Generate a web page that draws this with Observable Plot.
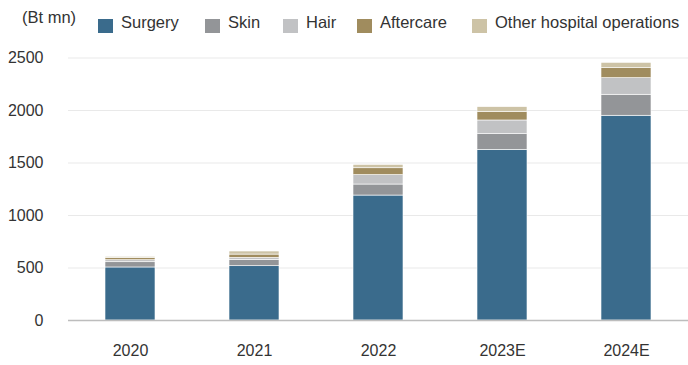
<!DOCTYPE html>
<html><head><meta charset="utf-8">
<script src="https://cdn.jsdelivr.net/npm/d3@7"></script>
<script src="https://cdn.jsdelivr.net/npm/@observablehq/plot@0.6"></script>
<style>
body{margin:0;background:#fff;font-family:"Liberation Sans",Arial,sans-serif;}
#wrap{position:relative;width:688px;height:365px;}
.txt{position:absolute;font-size:16.5px;color:#333;white-space:nowrap;line-height:normal;}
.sw{position:absolute;width:15px;height:14px;}
svg{position:absolute;left:0;top:0;}
</style></head><body><div id="wrap"></div>
<script>
const years = ["2020", "2021", "2022", "2023E", "2024E"];
const series = ["Surgery", "Skin", "Hair", "Aftercare", "Other hospital operations"];
const colors = ["#3a6b8c", "#939598", "#c1c2c4", "#a08c5e", "#cdc3a6"];
const surgery = [505, 517, 1190, 1625, 1950];
const skin = [50, 60, 105, 150, 200];
const hair = [19, 19, 90, 130, 158];
const aftercare = [22, 32, 65, 80, 95];
const other = [10, 29, 32, 47, 51];
const yTicks = [0, 500, 1000, 1500, 2000, 2500];
const unitLabel = "(Bt mn)";

const values = [surgery, skin, hair, aftercare, other];
const rows = series.flatMap((s, i) => years.map((y, j) => ({year: y, series: s, value: values[i][j]})));

const chart = Plot.plot({
  width: 688, height: 365,
  marginTop: 57.5, marginBottom: 45, marginLeft: 68, marginRight: 0,
  style: {fontFamily: "Liberation Sans, Arial, sans-serif", fontSize: "16px", color: "#333", background: "transparent"},
  x: {domain: years, paddingInner: 0.6, paddingOuter: 0.3, label: null, tickSize: 0, tickPadding: 24},
  y: {domain: [0, 2500], ticks: yTicks, label: null, tickSize: 0, tickPadding: 25, tickFormat: d => String(d)},
  color: {domain: series, range: colors},
  marks: [
    Plot.gridY(yTicks.slice(1), {stroke: "#e9e9e9", strokeOpacity: 1, strokeWidth: 1.2}),
    Plot.barY(rows, {x: "year", y: "value", fill: "series", stroke: "#fff", strokeWidth: 0.6}),
    Plot.ruleY([0], {stroke: "#bdbdbd", strokeWidth: 1.5})
  ]
});

const wrap = document.getElementById("wrap");
wrap.appendChild(chart);

function addText(t, left, top) {
  const d = document.createElement("div");
  d.className = "txt"; d.textContent = t;
  d.style.left = left + "px"; d.style.top = top + "px";
  wrap.appendChild(d);
}
addText(unitLabel, 22, 8);
const swLeft = [98, 205, 283, 357, 472];
series.forEach((s, i) => {
  const sw = document.createElement("div");
  sw.className = "sw"; sw.style.background = colors[i];
  sw.style.left = swLeft[i] + "px"; sw.style.top = "19px";
  wrap.appendChild(sw);
  addText(s, swLeft[i] + 23, 13);
});
</script></body></html>
